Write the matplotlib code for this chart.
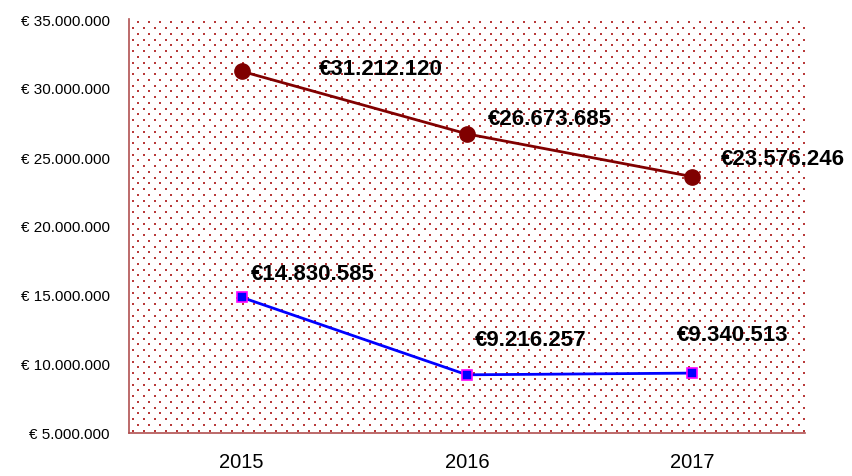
import matplotlib.pyplot as plt
import numpy as np

# data
years = ["2015", "2016", "2017"]
serie_rood = [31212120, 26673685, 23576246]
serie_blauw = [14830585, 9216257, 9340513]

# label offsets in pixels (dx, dy) relative to the point
off_rood = [(77, 3), (21, 15), (29, 18)]
off_blauw = [(9, 24), (8, 35), (-15, 39)]


def euro(v):
    return "€" + f"{v:,.0f}".replace(",", ".")


fig = plt.figure(figsize=(8.53, 4.77), dpi=100)
ax = fig.add_axes([129 / 853, 1 - 434 / 477, 676 / 853, 414 / 477])

# dotted background pattern
rows = []
for i, y in enumerate(np.arange(2.5, 414, 5.75)):
    start = 4.0 if i % 2 == 0 else 9.5
    for x in np.arange(start, 676, 11.0):
        rows.append((x / 676, y / 414))
pts = np.array(rows)
ax.scatter(pts[:, 0], pts[:, 1], s=0.55, marker="s", color="#b83a3a", linewidths=0,
           transform=ax.transAxes, zorder=0)

x = np.arange(len(years))
ax.plot(x, serie_rood, color="#800000", linewidth=2, marker="o", markersize=11,
        markerfacecolor="#800000", markeredgecolor="#800000", zorder=3)
ax.plot(x, serie_blauw, color="#0000ff", linewidth=2, marker="s", markersize=7,
        markerfacecolor="#0000ff", markeredgecolor="#ff00ff", markeredgewidth=1.2, zorder=3)

for xi, v, (dx, dy) in zip(x, serie_rood, off_rood):
    ax.annotate(euro(v), (xi, v), xytext=(dx * 0.72, dy * 0.72), textcoords="offset points",
                ha="left", va="center", fontsize=16, fontweight="bold",
                family="Liberation Sans", zorder=4)
for xi, v, (dx, dy) in zip(x, serie_blauw, off_blauw):
    ax.annotate(euro(v), (xi, v), xytext=(dx * 0.72, dy * 0.72), textcoords="offset points",
                ha="left", va="center", fontsize=16, fontweight="bold",
                family="Liberation Sans", zorder=4)

ax.set_xlim(-0.5, 2.5)
ax.set_ylim(5000000, 35000000)
ax.set_xticks(x)
ax.set_xticklabels(years, fontsize=14.5, family="Liberation Sans")
yt = np.arange(5000000, 35000001, 5000000)
ax.set_yticks(yt)
ax.set_yticklabels(["€ " + f"{v:,.0f}".replace(",", ".") for v in yt],
                   fontsize=11, family="Liberation Sans")
ax.tick_params(axis="both", length=0)
ax.tick_params(axis="y", pad=14)
ax.tick_params(axis="x", pad=14)

for s in ["top", "right"]:
    ax.spines[s].set_visible(False)
for s in ["left", "bottom"]:
    ax.spines[s].set_color("#b05050")
    ax.spines[s].set_linewidth(1.2)

fig.savefig("out.png", dpi=100)
